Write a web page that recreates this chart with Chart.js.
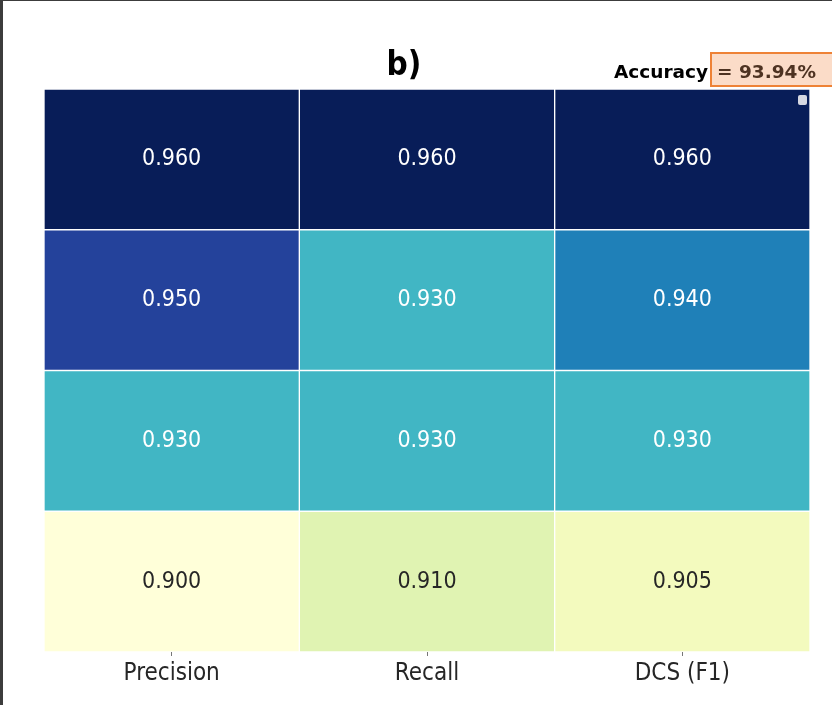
<!DOCTYPE html>
<html>
<head>
<meta charset="utf-8">
<script src="https://cdn.jsdelivr.net/npm/chart.js@4"></script>
<style>
    html, body { margin: 0; padding: 0; background: #3c3c3c; }
    #wrap { position: absolute; left: 3px; top: 1px; width: 829px; height: 704px; background: #fff; }
</style>
</head>
<body>
<div id="wrap"><canvas id="scoreChart" width="829" height="704"></canvas></div>
<script>
// Metric columns and the four score rows (top to bottom)
const metrics = ['Precision', 'Recall', 'DCS (F1)'];
const rowA = [0.960, 0.960, 0.960];
const rowB = [0.950, 0.930, 0.940];
const rowC = [0.930, 0.930, 0.930];
const rowD = [0.900, 0.910, 0.905];
const rows = [rowA, rowB, rowC, rowD];

const panelTitle = 'b)';
const accuracy = 93.94;

// Colour range used by the heatmap
const vMin = 0.900;
const vMax = 0.960;

// YlGnBu stops
const ylGnBu = ['#ffffd9', '#edf8b1', '#c7e9b4', '#7fcdbb', '#41b6c4', '#1d91c0', '#225ea8', '#253494', '#081d58'];

function hexToRgb(h) {
    const n = parseInt(h.slice(1), 16);
    return [(n >> 16) & 255, (n >> 8) & 255, n & 255];
}

function cellColor(v) {
    let t = (v - vMin) / (vMax - vMin);
    t = Math.max(0, Math.min(1, t));
    const pos = t * (ylGnBu.length - 1);
    const i = Math.min(Math.floor(pos), ylGnBu.length - 2);
    const f = pos - i;
    const a = hexToRgb(ylGnBu[i]);
    const b = hexToRgb(ylGnBu[i + 1]);
    const c = a.map((x, k) => Math.round(x + (b[k] - x) * f));
    return `rgb(${c[0]}, ${c[1]}, ${c[2]})`;
}

function textColor(v) {
    return (v - vMin) / (vMax - vMin) >= 0.45 ? '#ffffff' : '#262626';
}

// One floating-bar dataset per row; row 0 sits at the top
const datasets = rows.map((vals, r) => {
    const lo = rows.length - 1 - r;
    return {
        label: 'row' + r,
        data: vals.map(() => [lo, lo + 1]),
        scores: vals,
        backgroundColor: vals.map(cellColor),
        borderColor: 'rgba(255, 255, 255, 0.28)',
        borderWidth: 1,
        borderSkipped: false,
        grouped: false,
        barPercentage: 1,
        categoryPercentage: 1
    };
});

// Writes each score in the middle of its cell
const cellLabels = {
    id: 'cellLabels',
    afterDatasetsDraw(chart) {
        const ctx = chart.ctx;
        ctx.save();
        ctx.font = '23px "DejaVu Sans Condensed", "DejaVu Sans", sans-serif';
        ctx.textAlign = 'center';
        ctx.textBaseline = 'middle';
        chart.data.datasets.forEach((ds, di) => {
            const meta = chart.getDatasetMeta(di);
            meta.data.forEach((bar, i) => {
                const v = ds.scores[i];
                ctx.fillStyle = textColor(v);
                ctx.fillText(v.toFixed(3), bar.x, (bar.y + bar.base) / 2);
            });
        });
        ctx.restore();
    }
};

// Panel title, accuracy badge and the small marker in the corner
const headerBits = {
    id: 'headerBits',
    afterDraw(chart) {
        const ctx = chart.ctx;
        const area = chart.chartArea;
        ctx.save();

        ctx.fillStyle = '#000';
        ctx.textAlign = 'center';
        ctx.textBaseline = 'alphabetic';
        ctx.font = 'bold 33px "DejaVu Sans Condensed", "DejaVu Sans", sans-serif';
        ctx.fillText(panelTitle, 401, 74);

        ctx.textAlign = 'left';
        ctx.font = 'bold 18.5px "DejaVu Sans", sans-serif';
        ctx.fillText('Accuracy', 611, 77);

        ctx.fillStyle = '#fbdcc8';
        ctx.strokeStyle = '#ee8236';
        ctx.lineWidth = 2;
        ctx.fillRect(708, 52, 130, 33);
        ctx.strokeRect(708, 52, 130, 33);
        ctx.fillStyle = '#4e3322';
        ctx.fillText('= ' + accuracy.toFixed(2) + '%', 714, 77);

        ctx.fillStyle = '#d6d8e2';
        ctx.beginPath();
        ctx.roundRect(area.right - 12, area.top + 6, 9, 10, 2);
        ctx.fill();

        ctx.restore();
    }
};

new Chart(document.getElementById('scoreChart').getContext('2d'), {
    type: 'bar',
    data: {
        labels: metrics,
        datasets: datasets
    },
    options: {
        responsive: false,
        animation: false,
        layout: {
            padding: { left: 41, right: 22, top: 88, bottom: 0 }
        },
        plugins: {
            legend: { display: false },
            tooltip: { enabled: false }
        },
        scales: {
            x: {
                grid: {
                    offset: false,
                    drawOnChartArea: false,
                    drawTicks: true,
                    tickLength: 4,
                    color: '#777'
                },
                border: { display: false },
                ticks: {
                    color: '#262626',
                    padding: 3,
                    font: { family: '"DejaVu Sans Condensed", "DejaVu Sans", sans-serif', size: 24 }
                },
                afterFit(scale) {
                    scale.height = 53;
                }
            },
            y: {
                display: false,
                min: 0,
                max: rows.length
            }
        }
    },
    plugins: [cellLabels, headerBits]
});
</script>
</body>
</html>
